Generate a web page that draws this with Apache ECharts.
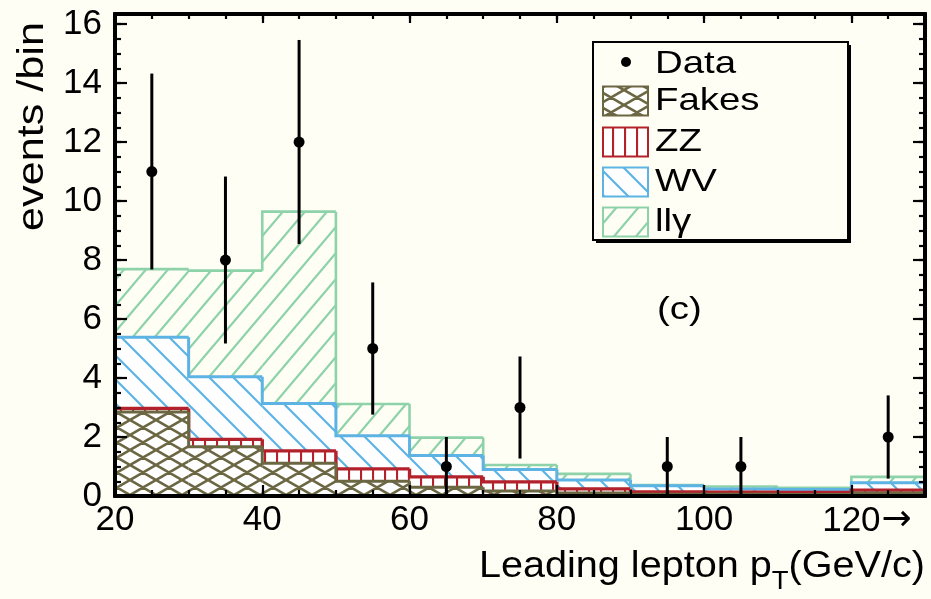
<!DOCTYPE html>
<html><head><meta charset="utf-8">
<script src="https://cdn.jsdelivr.net/npm/echarts@6/dist/echarts.min.js"></script>
<style>html,body{margin:0;padding:0;background:#fefef4;}#c{width:931px;height:599px;}</style>
</head><body><div id="c"></div>
<script>
// ---- data ----
const binLow  = [20, 30, 40, 50, 60, 70, 80, 90, 100, 110, 120];
const binHigh = [30, 40, 50, 60, 70, 80, 90, 100, 110, 120, 130];
const fakes = [2.85, 1.67, 1.11, 0.50, 0.30, 0.17, 0.10, 0.06, 0.06, 0.05, 0.10];
const zz    = [0.12, 0.25, 0.42, 0.42, 0.35, 0.31, 0.14, 0.08, 0.07, 0.07, 0.10];
const wv    = [2.41, 2.12, 1.61, 1.12, 0.72, 0.42, 0.30, 0.21, 0.11, 0.10, 0.25];
const llg   = [2.31, 3.60, 6.50, 1.08, 0.61, 0.15, 0.21, 0.02, 0.08, 0.06, 0.20];
const dataX   = [25, 35, 45, 55, 65, 75, 95, 105, 125];
const dataY   = [11, 8, 12, 5, 1, 3, 1, 1, 2];
const dataErr = [3.32, 2.83, 3.46, 2.24, 1.0, 1.73, 1.0, 1.0, 1.41];
const xTickValues = [20, 40, 60, 80, 100, 120];
const xTickLabels = ['20', '40', '60', '80', '100', '120'];
const yTickValues = [0, 2, 4, 6, 8, 10, 12, 14, 16];
const yTickLabels = ['0', '2', '4', '6', '8', '10', '12', '14', '16'];
const seriesNames = ['Data', 'Fakes', 'ZZ', 'WV', 'll\u03b3'];

const BG = '#fefef4';
const C_GREEN = '#8ed2aa', C_BLUE = '#5cb3e4', C_RED = '#b3222b', C_BROWN = '#6c6743';
const FONT = '"Liberation Sans", Arial, Helvetica, sans-serif';

// ---- hatch patterns ----
function makeTile(w, h, bg, color, lw, draw) {
  const c = document.createElement('canvas');
  c.width = w; c.height = h;
  const g = c.getContext('2d');
  if (bg) { g.fillStyle = bg; g.fillRect(0, 0, w, h); }
  g.strokeStyle = color; g.lineWidth = lw; g.lineCap = 'square';
  g.beginPath(); draw(g, w, h); g.stroke();
  return { image: c, repeat: 'repeat' };
}
const patGreen = makeTile(22, 26, null, C_GREEN, 2.2, (g, w, h) => {
  for (let k = -1; k <= 1; k++) { g.moveTo(k * w, h); g.lineTo(k * w + w, 0); }
});
const patBlue = makeTile(24, 24, '#ffffff', C_BLUE, 2.2, (g, w, h) => {
  for (let k = -1; k <= 1; k++) { g.moveTo(k * w, 0); g.lineTo(k * w + w, h); }
});
const patRed = makeTile(12, 4, '#ffffff', C_RED, 2.2, (g, w, h) => {
  g.moveTo(1, -1); g.lineTo(1, h + 1);
});
const patBrown = makeTile(26, 15, '#ffffff', C_BROWN, 2.6, (g, w, h) => {
  for (let k = -1; k <= 1; k++) {
    g.moveTo(k * w, 0); g.lineTo(k * w + w, h);
    g.moveTo(k * w, h); g.lineTo(k * w + w, 0);
  }
});

// ---- stacking ----
function cumulate(list) {
  return binLow.map((_, i) => list.reduce((s, arr) => s + arr[i], 0));
}
const topFakes = cumulate([fakes]);
const topZZ = cumulate([fakes, zz]);
const topWV = cumulate([fakes, zz, wv]);
const topLLG = cumulate([fakes, zz, wv, llg]);

function histItems(tops) {
  return binLow.map((lo, i) => [lo, binHigh[i], 0, tops[i], i > 0 ? tops[i - 1] : tops[i]]);
}
function histSeries(name, tops, pattern, color, lw, z) {
  return {
    type: 'custom', name: name, z: z, clip: true,
    data: histItems(tops),
    renderItem: function (params, api) {
      const lo = api.value(0), hi = api.value(1), base = api.value(2), top = api.value(3), prev = api.value(4);
      const a = api.coord([lo, top]);
      const b = api.coord([hi, base]);
      const pp = api.coord([lo, prev]);
      const c = api.coord([hi, top]);
      return {
        type: 'group',
        children: [
          { type: 'rect', shape: { x: a[0], y: a[1], width: b[0] - a[0], height: b[1] - a[1] },
            style: { fill: pattern }, z2: 0 },
          { type: 'polyline', shape: { points: [pp, a, c] },
            style: { stroke: color, lineWidth: lw, fill: null }, z2: 1 }
        ]
      };
    }
  };
}

const dataItems = dataX.map((x, i) => [x, dataY[i], dataErr[i]]);

const yMax = 16.34;
function xAxisDef(pos, interval, len, labels) {
  return {
    type: 'value', position: pos, min: 20, max: 130, interval: interval, z: 10,
    axisLine: { show: true, onZero: false, lineStyle: { color: '#000', width: 4 } },
    axisTick: { show: true, inside: true, length: len, lineStyle: { color: '#000', width: 2.2 } },
    splitLine: { show: false },
    axisLabel: labels ? {
      show: true, margin: 7, color: '#000', fontFamily: FONT, fontSize: 35,
      formatter: function (v) {
        const i = xTickValues.indexOf(v);
        if (i < 0) return '';
        if (i === xTickValues.length - 1) return '{p|}' + xTickLabels[i] + '{a|\u2192}';
        return xTickLabels[i];
      },
      rich: {
        p: { width: 32 },
        a: { fontFamily: '"DejaVu Sans", sans-serif', fontSize: 36, width: 32, color: '#000' }
      }
    } : { show: false }
  };
}
function yAxisDef(pos, interval, len, labels) {
  return {
    type: 'value', position: pos, min: 0, max: yMax, interval: interval, z: 10,
    axisLine: { show: true, onZero: false, lineStyle: { color: '#000', width: 4 } },
    axisTick: { show: true, inside: true, length: len, lineStyle: { color: '#000', width: 2.2 } },
    splitLine: { show: false },
    axisLabel: labels ? {
      show: true, margin: 13, color: '#000', fontFamily: FONT, fontSize: 35,
      formatter: function (v) {
        const i = yTickValues.indexOf(v);
        return i < 0 ? '' : yTickLabels[i];
      }
    } : { show: false }
  };
}

const chart = echarts.init(document.getElementById('c'), null, { renderer: 'canvas' });

const legendY = [64, 101, 142, 182, 222];
const legendPats = [null, patBrown, patRed, patBlue, patGreen];
const legendCols = [null, C_BROWN, C_RED, C_BLUE, C_GREEN];
const legendChildren = [
  { type: 'rect', shape: { x: 596, y: 45, width: 255, height: 198 }, style: { fill: '#000' } },
  { type: 'rect', shape: { x: 593, y: 42, width: 255, height: 198 },
    style: { fill: BG, stroke: '#000', lineWidth: 2 } },
  { type: 'circle', shape: { cx: 626, cy: 62, r: 5 }, style: { fill: '#000' } }
];
for (let i = 1; i < 5; i++) {
  legendChildren.push({ type: 'rect', shape: { x: 603, y: legendY[i] - 14.5, width: 45, height: 29 },
    style: { fill: legendPats[i], stroke: legendCols[i], lineWidth: 2 } });
}
for (let i = 0; i < 5; i++) {
  legendChildren.push({ type: 'text', x: 655, y: legendY[i], scaleX: 1.2,
    style: { text: seriesNames[i], font: '32px ' + FONT, fill: '#000', textVerticalAlign: 'middle', textAlign: 'left' } });
}

chart.setOption({
  backgroundColor: BG,
  animation: false,
  grid: { left: 115, right: 6, top: 14, bottom: 103, containLabel: false },
  xAxis: [
    xAxisDef('bottom', 20, 11, true),
    xAxisDef('bottom', 5, 6, false),
    xAxisDef('top', 20, 9, false),
    xAxisDef('top', 5, 5, false)
  ],
  yAxis: [
    yAxisDef('left', 2, 12, true),
    yAxisDef('left', 0.5, 6, false),
    yAxisDef('right', 2, 12, false),
    yAxisDef('right', 0.5, 6, false)
  ],
  series: [
    histSeries(seriesNames[4], topLLG, patGreen, C_GREEN, 2.6, 2),
    histSeries(seriesNames[3], topWV, patBlue, C_BLUE, 3, 3),
    histSeries(seriesNames[2], topZZ, patRed, C_RED, 3.4, 4),
    histSeries(seriesNames[1], topFakes, patBrown, C_BROWN, 3, 5),
    {
      type: 'custom', name: seriesNames[0], z: 20, data: dataItems,
      renderItem: function (params, api) {
        const x = api.value(0), y = api.value(1), e = api.value(2);
        const pc = api.coord([x, y]);
        const pl = api.coord([x, Math.max(0, y - e)]);
        const ph = api.coord([x, y + e]);
        return {
          type: 'group',
          children: [
            { type: 'line', shape: { x1: pl[0], y1: pl[1], x2: ph[0], y2: ph[1] }, style: { stroke: '#000', lineWidth: 3 } },
            { type: 'circle', shape: { cx: pc[0], cy: pc[1], r: 5.5 }, style: { fill: '#000' } }
          ]
        };
      }
    }
  ],
  graphic: [
    { type: 'group', children: legendChildren, z: 30 },
    { type: 'text', x: 657, y: 310, scaleX: 1.2, z: 30,
      style: { text: '(c)', font: '32px ' + FONT, fill: '#000', textVerticalAlign: 'middle' } },
    { type: 'text', x: 15, y: 231, rotation: Math.PI / 2, scaleX: 1.2, z: 30,
      style: { text: 'events /bin', font: '36px ' + FONT, fill: '#000', textVerticalAlign: 'top', textAlign: 'left' } },
    { type: 'text', x: 925, y: 567, scaleX: 1.1, z: 30,
      style: { text: 'Leading lepton p{s|T}(GeV/c)', font: '36px ' + FONT, fill: '#000',
        textAlign: 'right', textVerticalAlign: 'middle', lineHeight: 56,
        rich: { s: { fontSize: 25, fontFamily: FONT, verticalAlign: 'bottom', lineHeight: 26 } } } }
  ]
});
</script></body></html>
